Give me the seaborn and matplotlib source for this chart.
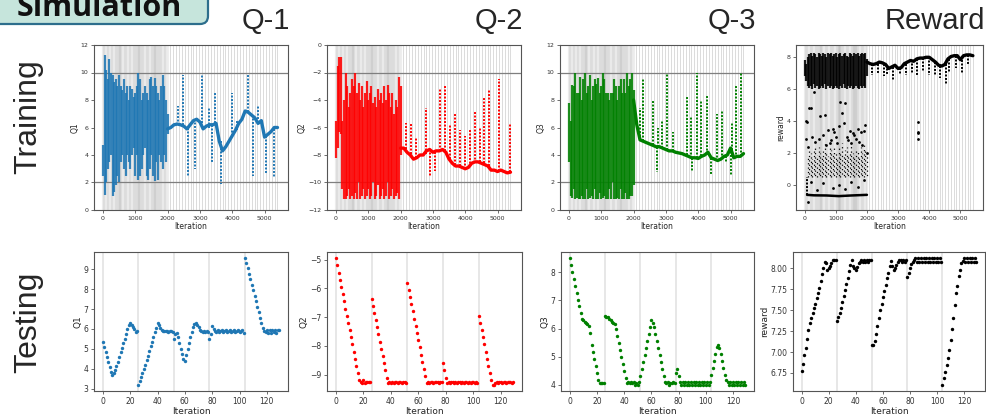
import matplotlib
matplotlib.use("Agg")
import matplotlib.pyplot as plt
from matplotlib.patches import FancyBboxPatch
from matplotlib.transforms import IdentityTransform
import seaborn as sns

# ---------------- data ----------------
# training: dense region (0-2000) as column ranges every 50 iterations
q1_early_lo = [2.5, 1.1, 2.0, 3.0, 3.5, 4.0, 1.0, 1.3, 1.8, 2.5,
               2.0, 3.5, 4.0, 3.0, 2.5, 4.0, 3.5, 3.0, 4.0, 4.5,
               2.5, 4.0, 2.2, 2.5, 3.0, 4.0, 4.5, 2.5, 2.2, 3.0,
               4.0, 2.5, 2.1, 3.5, 2.2, 4.0, 3.5, 3.0, 4.0, 3.5, 5.5]
q1_early_hi = [4.7, 11.3, 10.2, 9.5, 11.0, 10.0, 9.8, 9.3, 9.5, 9.0,
               9.8, 9.0, 8.7, 9.5, 8.5, 9.0, 8.0, 9.0, 8.8, 8.2,
               8.5, 9.0, 10.0, 9.5, 8.0, 8.5, 9.0, 8.5, 8.0, 9.5,
               9.7, 9.0, 9.6, 9.0, 8.5, 8.0, 9.0, 9.8, 9.0, 8.0, 7.0]
q2_early_lo = [-8.2, -7.5, -6.3, -6.5, -10.5, -11.2, -11.2, -11.0, -10.5, -11.2,
               -11.0, -11.2, -10.8, -11.2, -10.0, -11.2, -11.0, -10.5, -11.2, -11.0,
               -10.5, -11.2, -11.0, -10.0, -11.2, -11.0, -10.2, -11.2, -11.0, -10.5,
               -11.2, -11.0, -10.0, -11.2, -11.0, -10.5, -11.2, -11.0, -10.8, -11.2, -8.0]
q2_early_hi = [-5.5, -1.5, -0.9, -0.9, -5.5, -4.0, -2.0, -3.0, -4.5, -3.5,
               -2.5, -3.0, -2.0, -3.5, -2.8, -4.0, -3.0, -4.5, -3.5, -2.6,
               -4.0, -3.5, -3.0, -4.2, -3.8, -4.5, -3.2, -4.0, -3.5, -4.2,
               -3.0, -4.0, -2.9, -3.5, -4.5, -3.5, -5.0, -4.0, -4.5, -2.3, -3.0]
q3_early_lo = [3.5, 1.0, 0.9, 1.5, 0.8, 0.9, 0.8, 0.8, 1.0, 0.8,
               0.8, 1.5, 0.8, 0.9, 1.0, 0.8, 1.5, 0.8, 0.8, 1.2,
               0.8, 0.9, 1.0, 0.8, 0.8, 1.5, 0.8, 2.0, 0.8, 0.8,
               0.9, 0.8, 1.5, 0.8, 0.8, 1.2, 0.8, 0.8, 1.0, 1.0, 1.8]
q3_early_hi = [7.8, 6.5, 9.1, 9.0, 10.0, 8.5, 8.5, 9.7, 8.0, 9.5,
               10.0, 8.5, 9.0, 9.8, 8.0, 9.0, 9.5, 9.2, 9.6, 8.5,
               9.0, 10.0, 9.5, 8.5, 8.5, 8.0, 8.5, 8.5, 9.5, 9.0,
               8.0, 9.0, 9.5, 8.5, 9.5, 8.5, 10.0, 9.0, 9.5, 10.0, 8.7]
rw_early_lo = [6.8, 6.5, 6.2, 6.1, 6.2, 6.0, 6.3, 6.1, 6.2, 6.0,
               6.1, 6.2, 6.1, 6.3, 6.0, 6.2, 6.1, 6.2, 6.0, 6.1,
               6.2, 6.1, 6.0, 6.2, 6.1, 6.3, 6.1, 6.0, 6.2, 6.1,
               6.2, 6.0, 6.1, 6.2, 6.1, 6.0, 6.2, 6.1, 6.2, 6.1, 6.8]
rw_early_hi = [7.8, 7.6, 8.0, 8.2, 8.3, 8.1, 8.3, 8.2, 8.0, 8.3,
               8.2, 8.1, 8.3, 8.2, 8.0, 8.3, 8.2, 8.3, 8.1, 8.2,
               8.3, 8.0, 8.2, 8.3, 8.1, 8.2, 8.3, 8.1, 8.0, 8.3,
               8.2, 8.1, 8.3, 8.2, 8.3, 8.1, 8.2, 8.3, 8.2, 8.3, 7.9]
# reward low cluster (from iteration 100 on), lower edge ~0.5
rw_low_hi = [1.8, 2.1, 2.0, 1.6, 2.2, 2.5, 1.9, 2.4, 2.0, 1.7,
             2.3, 2.6, 2.1, 1.8, 2.4, 2.2, 1.9, 2.5, 2.0, 1.7,
             2.3, 2.1, 2.6, 1.9, 2.2, 2.4, 1.8, 2.1, 2.5, 2.0,
             1.9, 2.3, 2.2, 1.8, 2.4, 2.0, 2.6, 2.1, 2.0]
rw_out_x = [50, 80, 60, 100, 150, 200, 250, 300, 350, 450, 500, 600, 650, 700,
            750, 800, 850, 900, 950, 1000, 1050, 1100, 1150, 1200, 1250, 1300,
            1350, 1400, 1450, 1500, 1550, 1600, 1650, 1700, 1750, 1800, 1850,
            1900, 1950, 2000, 200, 400, 600, 900, 1100, 1300, 1500, 1700, 1900,
            100, 3630, 3630, 3640, 3630]
rw_out_y = [4.0, 3.95, 2.9, 2.4, 4.8, 4.85, 3.0, 5.8, 2.7, 2.9, 4.35, 3.1, 4.4, 2.5,
            3.45, 2.6, 2.8, 3.5, 3.3, 3.0, 2.6, 3.7, 5.2, 4.5, 3.9, 5.15,
            3.0, 2.8, 3.4, 2.6, 3.25, 3.1, 2.9, 3.5, 2.7, 3.3, 2.5,
            3.4, 3.75, 2.0, 0.2, -0.3, 0.1, -0.2, 0.0, -0.25, 0.2, -0.1, 0.3,
            -1.1, 3.95, 3.3, 3.25, 2.85]
rw_floor_x = [80, 300, 700, 1100, 1500, 2000]
rw_floor_y = [-0.62, -0.65, -0.66, -0.7, -0.66, -0.62]

# training: settled trace after 2000, every 100 iterations
q1_late = [5.9, 6.0, 6.2, 6.25, 6.2, 6.1, 5.9, 6.2, 6.5, 6.6,
           6.4, 5.9, 6.1, 6.2, 6.2, 6.3, 5.0, 4.3, 4.6, 5.0,
           5.4, 5.8, 6.3, 6.6, 7.2, 7.1, 6.9, 6.7, 6.3, 6.5,
           5.3, 5.5, 5.7, 6.0, 6.0]
q2_late = [-7.5, -7.5, -7.8, -8.0, -8.3, -8.2, -8.0, -8.0, -7.7, -7.6,
           -7.8, -7.7, -7.7, -7.6, -7.8, -8.3, -8.6, -8.8, -8.8, -8.9,
           -9.0, -8.9, -8.6, -8.5, -8.5, -8.6, -8.7, -8.8, -9.1, -9.1,
           -9.2, -9.1, -9.2, -9.3, -9.25]
q3_late = [8.0, 6.2, 5.1, 5.0, 4.9, 4.8, 4.7, 4.6, 4.6, 4.5,
           4.4, 4.3, 4.3, 4.2, 4.15, 4.1, 4.0, 3.9, 3.8, 3.8,
           3.75, 3.9, 4.0, 4.2, 3.8, 3.7, 3.6, 3.7, 3.9, 4.0,
           4.5, 3.8, 3.9, 3.9, 4.1]
rw_late = [7.7, 7.6, 7.55, 7.6, 7.7, 7.65, 7.55, 7.3, 7.4, 7.5,
           7.3, 7.35, 7.6, 7.7, 7.8, 7.75, 7.9, 7.95, 7.95, 8.0,
           8.0, 7.85, 7.7, 7.5, 7.45, 7.55, 7.9, 8.05, 8.1, 8.1,
           7.85, 8.1, 8.15, 8.15, 8.1]

# training: exploration spikes after 2000 (iteration, base, tip)
q1_spk_x = [2330, 2480, 2640, 2850, 3080, 3270, 3375, 3480, 3640, 4004, 4160, 4476, 4630, 4790, 5050, 5300]
q1_spk_b = [6.2, 6.2, 6.0, 6.6, 6.3, 6.0, 6.2, 6.3, 5.0, 5.4, 5.8, 7.1, 6.9, 6.6, 5.4, 5.9]
q1_spk_t = [7.6, 9.8, 2.5, 3.0, 9.8, 7.5, 3.4, 8.5, 1.9, 8.5, 6.5, 9.8, 2.5, 7.6, 2.7, 2.3]
q2_spk_x = [2160, 2310, 2470, 2780, 2900, 3060, 3230, 3385, 3540, 3690, 3840, 4000, 4135, 4290, 4450, 4580, 4730, 5040, 5385]
q2_spk_b = [-7.6, -7.9, -8.2, -7.9, -7.6, -7.8, -7.7, -7.7, -8.3, -8.7, -8.8, -9.0, -8.9, -8.6, -8.5, -8.6, -8.8, -9.2, -9.25]
q2_spk_t = [-5.7, -5.7, -6.8, -4.6, -9.6, -9.2, -3.2, -3.0, -5.8, -5.0, -6.2, -6.6, -6.1, -4.9, -6.0, -3.8, -3.3, -2.5, -5.7]
q3_spk_x = [2200, 2290, 2600, 2740, 2760, 2890, 3040, 3220, 3640, 3790, 3800, 3950, 4100, 4260, 4410, 4570, 4720, 4860, 5000, 5030, 5155, 5320]
q3_spk_b = [5.1, 5.0, 4.7, 4.6, 4.6, 4.5, 4.4, 4.3, 4.0, 3.8, 3.8, 3.8, 3.9, 4.1, 3.8, 3.6, 3.7, 3.9, 4.5, 4.4, 3.8, 3.9]
q3_spk_t = [7.4, 9.6, 7.9, 2.8, 6.0, 6.5, 10.0, 5.7, 8.2, 6.8, 2.8, 10.0, 8.0, 8.4, 2.6, 7.0, 7.3, 3.5, 2.5, 6.3, 9.0, 10.0]
rw_spk_x = [2150, 2350, 2550, 2650, 2850, 3050, 3250, 3450, 3600, 3800, 4000, 4200, 4350, 4550, 4650, 4850, 5050, 5250, 80]
rw_spk_b = [7.55, 7.6, 7.6, 7.5, 7.4, 7.3, 7.6, 7.8, 7.9, 7.95, 8.0, 7.7, 7.45, 7.55, 7.9, 8.1, 7.85, 8.15, -0.6]
rw_spk_t = [6.9, 7.0, 6.8, 6.9, 6.5, 6.9, 6.9, 7.0, 6.9, 7.1, 6.9, 6.8, 6.7, 6.3, 7.0, 7.3, 7.0, 7.5, 0.5]

# training episode boundaries
train_bounds_early = [0, 40, 80, 120, 160, 200, 240, 280, 320, 360, 400, 430, 460, 490, 520,
                      540, 560, 600, 640, 680, 720, 760, 800, 840, 880, 920, 960, 1000, 1030,
                      1060, 1090, 1110, 1130, 1150, 1170, 1200, 1240, 1280, 1320, 1360, 1400,
                      1440, 1480, 1520, 1550, 1580, 1600, 1620, 1640, 1660, 1690, 1720, 1760,
                      1800, 1840, 1880, 1920, 1960, 2000]
train_bounds_late = [2080, 2170, 2260, 2350, 2440, 2530, 2620, 2710, 2800, 2890, 2980, 3070,
                     3160, 3250, 3340, 3430, 3520, 3610, 3700, 3790, 3880, 3970, 4060, 4150,
                     4240, 4330, 4420, 4510, 4600, 4690, 4780, 4870, 4960, 5050, 5140, 5230,
                     5310, 5400]

# testing: 5 episodes of 26 steps
q1_test = [5.35, 5.1, 4.85, 4.6, 4.35, 4.1, 3.85, 3.7, 3.8, 3.95, 4.15, 4.35, 4.6, 4.85, 5.05, 5.3, 5.5, 5.75, 6.0, 6.2, 6.3, 6.2, 6.1, 6.0, 5.85, 5.9,
           3.2, 3.4, 3.6, 3.8, 4.0, 4.2, 4.45, 4.65, 4.9, 5.15, 5.35, 5.6, 5.85, 6.05, 6.3, 6.2, 6.05, 5.95, 5.9, 5.9, 5.88, 5.9, 5.85, 5.9, 5.9, 5.85,
           5.5, 5.75, 5.8, 5.6, 5.3, 5.0, 4.75, 4.5, 4.4, 4.7, 5.0, 5.3, 5.6, 5.85, 6.1, 6.25, 6.3, 6.2, 6.1, 5.95, 5.9, 5.85, 5.9, 5.85, 5.9, 5.85,
           5.5, 5.75, 6.15, 6.0, 5.9, 5.85, 5.95, 5.85, 5.9, 5.95, 5.85, 5.9, 5.95, 5.85, 5.9, 5.95, 5.85, 5.9, 5.95, 5.85, 5.9, 5.95, 5.85, 5.9, 5.95, 5.8,
           9.55, 9.3, 9.05, 8.75, 8.5, 8.2, 7.95, 7.65, 7.4, 7.1, 6.85, 6.55, 6.3, 6.05, 5.9, 5.85, 5.95, 5.8, 5.95, 5.8, 5.95, 5.85, 5.95, 5.8, 5.95, 5.95]
q2_test = [-4.95, -5.2, -5.45, -5.7, -5.95, -6.2, -6.45, -6.7, -6.95, -7.2, -7.45, -7.7, -7.95, -8.2, -8.45, -8.7, -8.95, -9.2, -9.25, -9.3, -9.2, -9.3, -9.25, -9.25, -9.25, -9.25,
           -6.35, -6.6, -6.85, -7.1, -7.35, -7.6, -7.85, -8.1, -8.35, -8.6, -8.85, -9.1, -9.3, -9.25, -9.3, -9.25, -9.3, -9.25, -9.25, -9.3, -9.25, -9.25, -9.3, -9.25, -9.25, -9.3,
           -5.8, -6.05, -6.3, -6.55, -6.8, -7.05, -7.3, -7.55, -7.8, -8.05, -8.3, -8.55, -8.8, -9.05, -9.3, -9.25, -9.3, -9.25, -9.25, -9.3, -9.25, -9.25, -9.25, -9.3, -9.25, -9.25,
           -8.6, -8.85, -9.1, -9.3, -9.25, -9.3, -9.25, -9.25, -9.3, -9.25, -9.3, -9.25, -9.25, -9.3, -9.25, -9.3, -9.25, -9.25, -9.3, -9.25, -9.3, -9.25, -9.25, -9.3, -9.25, -9.3,
           -6.95, -7.2, -7.45, -7.7, -7.95, -8.2, -8.45, -8.7, -8.95, -9.2, -9.35, -9.35, -9.3, -9.25, -9.3, -9.25, -9.25, -9.3, -9.25, -9.25, -9.3, -9.25, -9.25, -9.25, -9.3, -9.25]
q3_test = [8.5, 8.25, 8.0, 7.75, 7.5, 7.25, 7.0, 6.8, 6.55, 6.35, 6.3, 6.25, 6.2, 6.15, 6.1, 5.85, 5.4, 5.15, 4.9, 4.65, 4.4, 4.15, 4.05, 4.05, 4.05, 4.05,
           6.45, 6.4, 6.4, 6.35, 6.3, 6.25, 6.2, 6.15, 6.0, 5.75, 5.5, 5.25, 5.0, 4.75, 4.5, 4.25, 4.05, 4.1, 4.05, 4.1, 4.05, 4.1, 4.0, 4.05, 4.0, 4.1,
           4.3, 4.55, 4.8, 5.05, 5.3, 5.55, 5.8, 6.05, 6.3, 6.2, 6.05, 5.8, 5.55, 5.3, 5.05, 4.8, 4.55, 4.3, 4.1, 4.05, 4.1, 4.0, 4.05, 4.05, 4.1, 4.05,
           4.4, 4.55, 4.3, 4.1, 4.0, 4.1, 4.0, 4.1, 4.0, 4.1, 4.0, 4.1, 4.0, 4.1, 4.0, 4.1, 4.0, 4.1, 4.0, 4.1, 4.0, 4.1, 4.0, 4.1, 4.0, 4.1,
           4.35, 4.6, 4.85, 5.1, 5.35, 5.4, 5.3, 5.1, 4.85, 4.6, 4.35, 4.15, 4.1, 4.0, 4.1, 4.0, 4.1, 4.0, 4.1, 4.0, 4.1, 4.0, 4.1, 4.0, 4.1, 4.0]
rw_test = [6.77, 6.86, 6.96, 7.05, 7.15, 7.26, 7.35, 7.41, 7.47, 7.53, 7.58, 7.64, 7.70, 7.77, 7.85, 7.93, 8.01, 8.08, 8.06, 7.98, 8.0, 8.03, 8.07, 8.1, 8.1, 8.1,
           7.37, 7.42, 7.47, 7.53, 7.6, 7.67, 7.74, 7.81, 7.89, 7.97, 8.04, 8.1, 8.03, 8.0, 7.98, 8.02, 8.06, 8.08, 8.1, 8.08, 8.1, 8.08, 8.1, 8.08, 8.1, 8.1,
           7.09, 7.09, 7.13, 7.22, 7.31, 7.41, 7.5, 7.58, 7.66, 7.73, 7.8, 7.88, 7.95, 8.03, 8.09, 8.03, 7.98, 8.0, 8.04, 8.08, 8.1, 8.1, 8.08, 8.1, 8.08, 8.1,
           7.9, 7.95, 8.0, 8.05, 8.08, 8.1, 8.12, 8.08, 8.12, 8.08, 8.12, 8.08, 8.12, 8.08, 8.12, 8.08, 8.12, 8.08, 8.12, 8.08, 8.12, 8.08, 8.12, 8.08, 8.12, 8.08,
           6.61, 6.69, 6.76, 6.84, 6.93, 7.03, 7.14, 7.27, 7.41, 7.56, 7.7, 7.79, 7.91, 7.98, 8.07, 8.09, 8.12, 8.08, 8.12, 8.08, 8.12, 8.08, 8.12, 8.08, 8.12, 8.08]
test_bounds = [0, 26, 52, 78, 104]
rw_test_ticks = [6.75, 7.00, 7.25, 7.50, 7.75, 8.00]

col_titles = ["Q-1", "Q-2", "Q-3", "Reward"]
y_labels = ["Q1", "Q2", "Q3", "reward"]
colors = ["#1f77b4", "red", "green", "black"]

# ---------------- figure ----------------
sns.set_theme(style="white")
plt.rcParams["font.family"] = ["DejaVu Sans"]

W, H = 986, 418
fig = plt.figure(figsize=(W / 100, H / 100), dpi=100)


def px_axes(x0, y0, x1, y1):
    return fig.add_axes([x0 / W, 1 - y1 / H, (x1 - x0) / W, (y1 - y0) / H])


def style_axes(ax, tick_fs, label_fs):
    for sp in ax.spines.values():
        sp.set_color("#555555")
        sp.set_linewidth(0.8)
    ax.tick_params(axis="both", which="both", bottom=True, left=True, length=2.5, width=0.6,
                   color="#555555", labelsize=tick_fs, labelcolor="#333333", pad=1.5)
    ax.xaxis.label.set_size(label_fs)
    ax.yaxis.label.set_size(label_fs)
    ax.xaxis.labelpad = 1
    ax.yaxis.labelpad = 1


train_boxes = [(94, 45, 288, 210), (327, 45, 521, 210), (560, 45, 754, 210), (796, 45, 983, 210)]
test_boxes = [(94, 252, 288, 391), (327, 252, 522, 391), (561, 252, 754, 391), (793, 252, 985, 391)]

early = [(q1_early_lo, q1_early_hi), (q2_early_lo, q2_early_hi),
         (q3_early_lo, q3_early_hi), (rw_early_lo, rw_early_hi)]
late = [q1_late, q2_late, q3_late, rw_late]
spikes = [(q1_spk_x, q1_spk_b, q1_spk_t), (q2_spk_x, q2_spk_b, q2_spk_t),
          (q3_spk_x, q3_spk_b, q3_spk_t), (rw_spk_x, rw_spk_b, rw_spk_t)]
tests = [q1_test, q2_test, q3_test, rw_test]
dots = (0, (1, 0.8))
scatter_styles = [(0, (1, 2.5)), (1.2, (1, 2.5)), (2.4, (1, 2.5))]

for i in range(4):
    c = colors[i]
    # ---- training ----
    ax = px_axes(*train_boxes[i])
    for b in train_bounds_early:
        ax.axvline(b, color="#808080", alpha=0.13, lw=1.6, zorder=0)
    for b in train_bounds_late:
        ax.axvline(b, color="#d6d6d6", lw=0.6, zorder=0)

    lo, hi = early[i]
    ex = [50 * k for k in range(len(lo))]
    ax.vlines(ex, lo, hi, colors=c, linestyles="solid", lw=1.6, alpha=0.88, zorder=2)
    if i == 3:
        lx = [100 + 50 * k for k in range(len(rw_low_hi))]
        ax.vlines(lx, [0.5] * len(lx), rw_low_hi, colors=c,
                  linestyles=[scatter_styles[k % 3] for k in range(len(lx))], lw=0.9, zorder=2)
        sns.scatterplot(x=rw_out_x, y=rw_out_y, color=c, s=4, linewidth=0, ax=ax, zorder=3)
        sns.lineplot(x=rw_floor_x, y=rw_floor_y, color=c, lw=1.8, ax=ax, zorder=3)

    lx = [2000 + 100 * k for k in range(len(late[i]))]
    sns.lineplot(x=lx, y=late[i], color=c, lw=2.4, ax=ax, zorder=3)
    sx, sb, st = spikes[i]
    ax.vlines(sx, sb, st, colors=c, linestyles=dots, lw=1.4, zorder=3)

    if i == 0 or i == 2:
        ax.set_ylim(0, 12)
        for h in (2, 10):
            ax.axhline(h, color="#7f7f7f", lw=0.9, zorder=1)
    elif i == 1:
        ax.set_ylim(-12, 0)
        for h in (-10, -2):
            ax.axhline(h, color="#7f7f7f", lw=0.9, zorder=1)
    ax.set_xlim(-275, 5725)
    ax.set_xticks([0, 1000, 2000, 3000, 4000, 5000])
    ax.set_xlabel("Iteration")
    ax.set_ylabel(y_labels[i])
    style_axes(ax, 4.5, 5.5)

    # ---- testing ----
    ax = px_axes(*test_boxes[i])
    for b in test_bounds:
        ax.axvline(b, color="#e3e3e3", lw=1.2, zorder=0)
    sns.scatterplot(x=list(range(len(tests[i]))), y=tests[i], color=c, s=6, linewidth=0, ax=ax, zorder=3)
    ax.set_xticks([0, 20, 40, 60, 80, 100, 120])
    if i == 3:
        ax.set_yticks(rw_test_ticks)
        ax.set_yticklabels([f"{t:.2f}" for t in rw_test_ticks])
    ax.set_xlabel("Iteration")
    ax.set_ylabel(y_labels[i])
    style_axes(ax, 5.5, 6.5)

    # column title, right aligned with the training panel
    fig.text((train_boxes[i][2] + 2) / W, 1 - 29 / H, col_titles[i], ha="right", va="baseline",
             fontsize=21, family="Liberation Sans")

# row labels
fig.text(28 / W, 1 - 117 / H, "Training", rotation=90, ha="center", va="center",
         fontsize=23, family="Liberation Sans")
fig.text(28 / W, 1 - 322 / H, "Testing", rotation=90, ha="center", va="center",
         fontsize=23, family="Liberation Sans")

# "Simulation" tab in the corner (cut by the top edge, as in the original)
tab = FancyBboxPatch((-20, H - 24), 228, 60, boxstyle="round,pad=0,rounding_size=8",
                     transform=IdentityTransform(), fc="#c6e5dc", ec="#2d6e8c", lw=1.6)
fig.patches.append(tab)
fig.text(99 / W, 1 - 15.5 / H, "Simulation", ha="center", va="baseline", fontsize=22,
         fontweight="bold", family="Open Sans", color="#111111")

fig.savefig("out.png", dpi=100)
